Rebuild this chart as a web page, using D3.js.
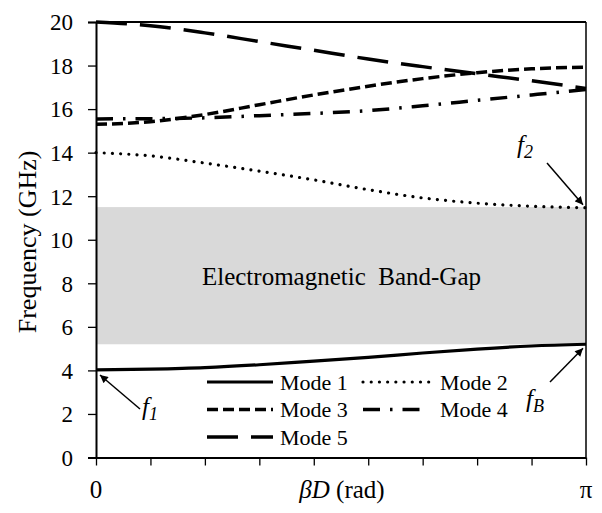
<!DOCTYPE html>
<html>
<head>
<meta charset="utf-8">
<script src="https://cdn.jsdelivr.net/npm/d3@7"></script>
<style>
  html, body { margin: 0; padding: 0; background: #fff; }
  svg text { font-family: "Liberation Serif", "Times New Roman", serif !important; fill: #000; }
</style>
</head>
<body>
<div id="chart"></div>
<script>
// Dispersion data, sampled at βD = k·π/9 (k = 0..9)
const betaD = d3.range(10).map(k => k * Math.PI / 9);
const mode1 = [4.02, 4.06, 4.13, 4.26, 4.43, 4.60, 4.80, 4.98, 5.12, 5.20];
const mode2 = [14.0, 13.85, 13.52, 13.15, 12.75, 12.3, 11.92, 11.68, 11.54, 11.47];
const mode3 = [15.3, 15.42, 15.75, 16.2, 16.65, 17.05, 17.4, 17.67, 17.85, 17.93];
const mode4 = [15.55, 15.56, 15.6, 15.7, 15.8, 15.93, 16.15, 16.4, 16.65, 16.9];
const mode5 = [20.0, 19.83, 19.5, 19.1, 18.7, 18.3, 17.95, 17.62, 17.3, 16.95];
const modeNames = ['Mode 1', 'Mode 2', 'Mode 3', 'Mode 4', 'Mode 5'];
const bandGap = [5.2, 11.5];
const yTicks = [0, 2, 4, 6, 8, 10, 12, 14, 16, 18, 20];

const W = 602, H = 513;
const margin = {top: 22, right: 16, bottom: 55.5, left: 96};
const width = W - margin.left - margin.right;
const height = H - margin.top - margin.bottom;

const svg = d3.select('#chart')
  .append('svg')
  .attr('width', W)
  .attr('height', H);

const defs = svg.append('defs');
defs.append('marker')
  .attr('id', 'arrow')
  .attr('viewBox', '0 0 10 10')
  .attr('refX', 10)
  .attr('refY', 5)
  .attr('markerWidth', 9)
  .attr('markerHeight', 8)
  .attr('markerUnits', 'userSpaceOnUse')
  .attr('orient', 'auto')
  .append('path')
  .attr('d', 'M0,0 L10,5 L0,10 z')
  .attr('fill', '#000');

const g = svg.append('g')
  .attr('transform', `translate(${margin.left},${margin.top})`);

const x = d3.scaleLinear().domain([0, Math.PI]).range([0, width]);
const y = d3.scaleLinear().domain([0, 20]).range([height, 0]);

// Band-gap shading
g.append('rect')
  .attr('x', x(0))
  .attr('y', y(bandGap[1]))
  .attr('width', x(Math.PI) - x(0))
  .attr('height', y(bandGap[0]) - y(bandGap[1]))
  .attr('fill', '#d9d9d9');

g.append('text')
  .attr('x', x(Math.PI * 0.501))
  .attr('y', y(7.9))
  .attr('text-anchor', 'middle')
  .attr('font-size', 25)
  .style('white-space', 'pre')
  .text('Electromagnetic  Band-Gap');

// Frame (top and right)
g.append('line')
  .attr('x1', x(0)).attr('x2', x(Math.PI))
  .attr('y1', y(20)).attr('y2', y(20))
  .attr('stroke', '#000').attr('stroke-width', 2);
g.append('line')
  .attr('x1', x(Math.PI)).attr('x2', x(Math.PI))
  .attr('y1', y(20)).attr('y2', y(0))
  .attr('stroke', '#000').attr('stroke-width', 1.5);

// Curves
const styles = [
  {w: 3.2, dash: null, cap: 'butt'},
  {w: 3.2, dash: '0.01 8.2', cap: 'round'},
  {w: 3.5, dash: '11 5', cap: 'butt'},
  {w: 3.5, dash: '17 10 2.5 10', cap: 'butt'},
  {w: 3.5, dash: '31 13', cap: 'butt'}
];
const modes = [mode1, mode2, mode3, mode4, mode5];

const line = d3.line()
  .x((d, i) => x(betaD[i]))
  .y(d => y(d))
  .curve(d3.curveMonotoneX);

modes.forEach((m, i) => {
  g.append('path')
    .datum(m)
    .attr('fill', 'none')
    .attr('stroke', '#000')
    .attr('stroke-width', styles[i].w)
    .attr('stroke-linecap', styles[i].cap)
    .attr('stroke-dasharray', styles[i].dash)
    .attr('d', line);
});

// Y axis
const yAxis = g.append('g')
  .call(d3.axisLeft(y).tickValues(yTicks).tickSize(8).tickPadding(15).tickFormat(d3.format('d')));
yAxis.select('.domain').attr('stroke-width', 2);
yAxis.selectAll('.tick line').attr('stroke-width', 1.3);
yAxis.selectAll('text')
  .attr('font-size', 23)
  .attr('dy', '0.34em');

// X axis
const xAxis = g.append('g')
  .attr('transform', `translate(0,${height})`)
  .call(d3.axisBottom(x).tickValues(betaD).tickSize(8).tickSizeOuter(0).tickFormat(''));
xAxis.select('.domain').attr('stroke-width', 2);
xAxis.selectAll('.tick line').attr('stroke-width', 1.3);

g.append('text')
  .attr('x', x(0))
  .attr('y', height + 40)
  .attr('text-anchor', 'middle')
  .attr('font-size', 25)
  .text('0');
g.append('text')
  .attr('x', x(Math.PI))
  .attr('y', height + 40)
  .attr('text-anchor', 'middle')
  .attr('font-size', 25)
  .text('π');

const xl = g.append('text')
  .attr('x', x(Math.PI * 0.502))
  .attr('y', height + 40)
  .attr('text-anchor', 'middle')
  .attr('font-size', 25);
xl.append('tspan').attr('font-style', 'italic').text('βD');
xl.append('tspan').text(' (rad)');

svg.append('text')
  .attr('transform', `translate(36,${margin.top + y(9.9)}) rotate(-90)`)
  .attr('text-anchor', 'middle')
  .attr('font-size', 26)
  .text('Frequency (GHz)');

// Legend
const legendPos = [
  {sx: 111, tx: 184, ty: 0},
  {sx: 267, tx: 344, ty: 0},
  {sx: 111, tx: 184, ty: 1},
  {sx: 267, tx: 344, ty: 1},
  {sx: 111, tx: 184, ty: 2}
];
modeNames.forEach((name, i) => {
  const p = legendPos[i];
  const ly = 360 + p.ty * 27.5;
  g.append('line')
    .attr('x1', p.sx).attr('x2', p.sx + 66)
    .attr('y1', ly).attr('y2', ly)
    .attr('stroke', '#000')
    .attr('stroke-width', styles[i].w)
    .attr('stroke-linecap', styles[i].cap)
    .attr('stroke-dasharray', styles[i].dash);
  g.append('text')
    .attr('x', p.tx)
    .attr('y', ly + 7.5)
    .attr('font-size', 22)
    .text(name);
});

// Annotations
function annot(label, sub, tx, ty, x1, y1, x2, y2) {
  g.append('line')
    .attr('x1', x1).attr('y1', y1)
    .attr('x2', x2).attr('y2', y2)
    .attr('stroke', '#000')
    .attr('stroke-width', 1.5)
    .attr('marker-end', 'url(#arrow)');
  const t = g.append('text')
    .attr('x', tx).attr('y', ty)
    .attr('font-size', 25)
    .attr('font-style', 'italic');
  t.append('tspan').text(label);
  t.append('tspan').attr('font-size', 18).attr('dy', 5).text(sub);
}
annot('f', '1', 46, 393, 44, 387, x(0) + 4, y(mode1[0]) + 5);
annot('f', 'B', 430, 385, 454, 360, x(Math.PI) - 3, y(mode1[9]) + 4);
annot('f', '2', 421, 131, 451, 141, x(Math.PI) - 3, y(mode2[9]) - 3);
</script>
</body>
</html>
